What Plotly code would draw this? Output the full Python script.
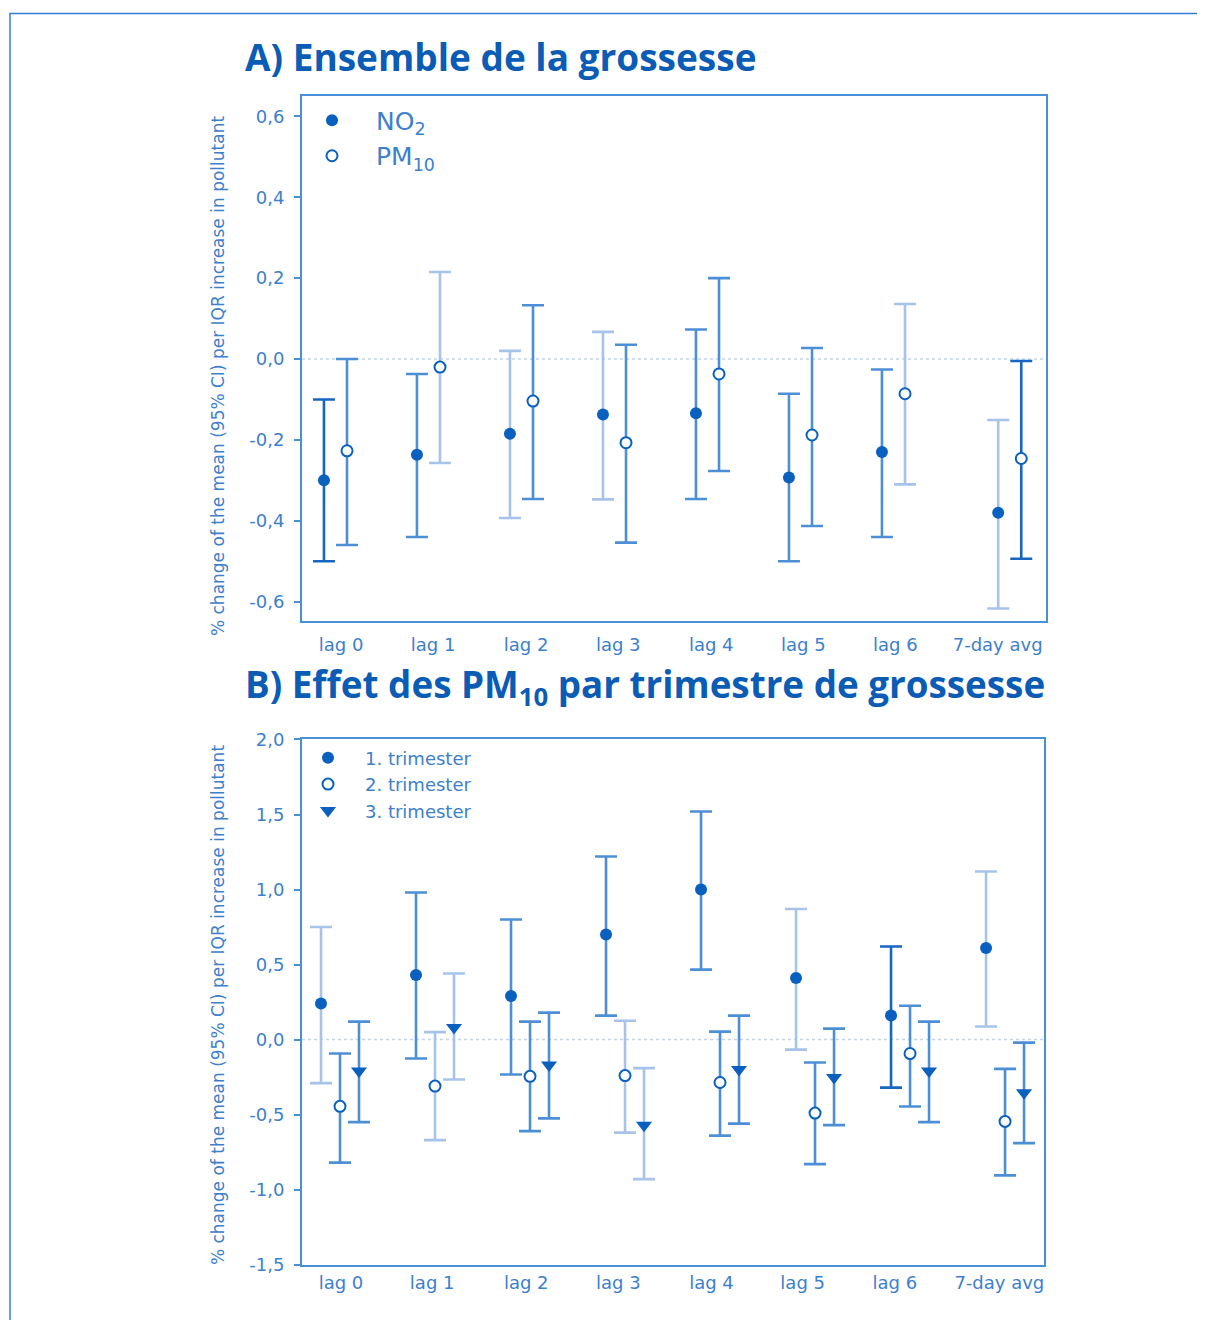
import plotly.graph_objects as go

W, H = 1205, 1320

# ---------------- data ----------------
lags = ["lag 0", "lag 1", "lag 2", "lag 3", "lag 4", "lag 5", "lag 6", "7-day avg"]

# Panel A: whole pregnancy
a_pos = [0, 1, 2, 3, 4, 5, 6, 7.25]
a_tick_pos = [0.06, 1.05, 2.05, 3.04, 4.04, 5.03, 6.02, 7.12]
no2_est = [-0.30, -0.237, -0.185, -0.137, -0.134, -0.293, -0.230, -0.380]
no2_lo = [-0.50, -0.440, -0.393, -0.347, -0.346, -0.500, -0.440, -0.617]
no2_hi = [-0.10, -0.037, 0.020, 0.067, 0.073, -0.086, -0.026, -0.151]
pm10_est = [-0.227, -0.020, -0.104, -0.207, -0.037, -0.188, -0.086, -0.246]
pm10_lo = [-0.460, -0.257, -0.346, -0.454, -0.277, -0.413, -0.310, -0.494]
pm10_hi = [0.0, 0.215, 0.133, 0.035, 0.200, 0.027, 0.136, -0.005]
a_yticks = [0.6, 0.4, 0.2, 0.0, -0.2, -0.4, -0.6]
a_yticktext = ["0,6", "0,4", "0,2", "0,0", "-0,2", "-0,4", "-0,6"]

# Panel B: PM10 by trimester
b_pos = [0, 1, 2, 3, 4, 5, 6, 7]
b_tick_pos = [0.01, 0.97, 1.96, 2.93, 3.91, 4.87, 5.84, 6.94]
t1_est = [0.24, 0.43, 0.29, 0.70, 1.00, 0.41, 0.16, 0.61]
t1_lo = [-0.29, -0.126, -0.233, 0.16, 0.466, -0.067, -0.32, 0.087]
t1_hi = [0.75, 0.98, 0.80, 1.22, 1.52, 0.87, 0.62, 1.12]
t2_est = [-0.445, -0.31, -0.245, -0.24, -0.286, -0.49, -0.093, -0.545]
t2_lo = [-0.82, -0.67, -0.61, -0.62, -0.64, -0.83, -0.446, -0.905]
t2_hi = [-0.093, 0.05, 0.12, 0.126, 0.053, -0.153, 0.226, -0.195]
t3_est = [-0.21, 0.08, -0.17, -0.57, -0.20, -0.253, -0.21, -0.355]
t3_lo = [-0.55, -0.266, -0.525, -0.93, -0.56, -0.57, -0.55, -0.69]
t3_hi = [0.12, 0.44, 0.18, -0.19, 0.16, 0.073, 0.12, -0.02]
b_yticks = [2.0, 1.5, 1.0, 0.5, 0.0, -0.5, -1.0, -1.5]
b_yticktext = ["2,0", "1,5", "1,0", "0,5", "0,0", "-0,5", "-1,0", "-1,5"]

# ---------------- styles ----------------
TITLE_C = "#0b5cb5"
MARK_C = "#0a60bf"
AXIS_C = "#4a90d9"
TICK_C = "#3d80cc"
ERR = {"d": "#1766c2", "m": "#4d8fd6", "l": "#a7c3ea"}
FONT = "DejaVu Sans"

no2_shade = ["d", "m", "l", "l", "m", "m", "m", "l"]
pm10_shade = ["m", "l", "m", "m", "m", "m", "l", "d"]
t1_shade = ["l", "m", "m", "m", "m", "l", "d", "l"]
t2_shade = ["m", "l", "m", "l", "m", "m", "m", "m"]
t3_shade = ["m", "l", "m", "l", "m", "m", "m", "m"]


# screen-pixel placement helpers (compensate page offset seen in the viewer)
def fx(px):
    return (px - 8) / W


def fy(py):
    return 1 - (py - 17.4) * 1.0146 / H


fig = go.Figure()


def add_series(xaxis, yaxis, pos, offset, est, lo, hi, shades, name, symbol, filled, legend, size):
    xs = [p + offset for p in pos]
    for i in range(len(xs)):
        fig.add_trace(go.Scatter(
            x=[xs[i]], y=[est[i]], mode="markers",
            marker=dict(size=1, color="rgba(0,0,0,0)"),
            error_y=dict(type="data", symmetric=False,
                         array=[hi[i] - est[i]], arrayminus=[est[i] - lo[i]],
                         color=ERR[shades[i]], thickness=2.6, width=11),
            xaxis=xaxis, yaxis=yaxis, showlegend=False, hoverinfo="skip"))
    if filled:
        marker = dict(size=size, color=MARK_C, symbol=symbol, line=dict(width=0))
    else:
        marker = dict(size=size, color="white", symbol=symbol, line=dict(width=2, color=MARK_C))
    fig.add_trace(go.Scatter(
        x=xs, y=est, mode="markers", name=name, marker=marker,
        xaxis=xaxis, yaxis=yaxis, legend=legend, showlegend=True))


add_series("x", "y", a_pos, -0.124, no2_est, no2_lo, no2_hi, no2_shade,
           "NO<sub>2</sub>", "circle", True, "legend", 12)
add_series("x", "y", a_pos, 0.124, pm10_est, pm10_lo, pm10_hi, pm10_shade,
           "PM<sub>10</sub>", "circle", False, "legend", 11)

add_series("x2", "y2", b_pos, -0.2, t1_est, t1_lo, t1_hi, t1_shade,
           "1. trimester", "circle", True, "legend2", 12)
add_series("x2", "y2", b_pos, 0.0, t2_est, t2_lo, t2_hi, t2_shade,
           "2. trimester", "circle", False, "legend2", 11)
add_series("x2", "y2", b_pos, 0.2, t3_est, t3_lo, t3_hi, t3_shade,
           "3. trimester", "triangle-down", True, "legend2", 14)

axis_common = dict(showline=True, linecolor=AXIS_C, linewidth=2, mirror=True,
                   showgrid=False, zeroline=False)
tickfont = dict(family=FONT, size=18, color=TICK_C)

fig.update_layout(
    width=W, height=H,
    margin=dict(l=0, r=0, t=0, b=0),
    paper_bgcolor="white", plot_bgcolor="white",
    showlegend=True,
    xaxis=dict(domain=[fx(302), fx(1046)], range=[-0.36, 7.64], anchor="y",
               tickvals=a_tick_pos, ticktext=lags, ticks="", tickfont=tickfont,
               ticklabelstandoff=7, **axis_common),
    yaxis=dict(domain=[fy(620), fy(95)], range=[-0.647, 0.649], anchor="x",
               tickvals=a_yticks, ticktext=a_yticktext, ticks="outside", ticklen=6,
               tickcolor=AXIS_C, tickwidth=2, tickfont=tickfont,
               ticklabelstandoff=6, **axis_common),
    xaxis2=dict(domain=[fx(302), fx(1044)], range=[-0.4, 7.41], anchor="y2",
                tickvals=b_tick_pos, ticktext=lags, ticks="", tickfont=tickfont,
                ticklabelstandoff=1, **axis_common),
    yaxis2=dict(domain=[fy(1265), fy(739)], range=[-1.5, 2.0], anchor="x2",
                tickvals=b_yticks, ticktext=b_yticktext, ticks="outside", ticklen=6,
                tickcolor=AXIS_C, tickwidth=2, tickfont=tickfont,
                ticklabelstandoff=6, **axis_common),
    legend=dict(x=fx(288), y=fy(96), xanchor="left", yanchor="top",
                bgcolor="rgba(0,0,0,0)", itemwidth=78,
                font=dict(family=FONT, size=25, color=TICK_C),
                tracegroupgap=0),
    legend2=dict(x=fx(291), y=fy(739), xanchor="left", yanchor="top",
                 bgcolor="rgba(0,0,0,0)", itemwidth=64,
                 font=dict(family=FONT, size=18, color=TICK_C),
                 tracegroupgap=0),
)

# dotted zero reference lines
for xr, yr in (("x", "y"), ("x2", "y2")):
    fig.add_shape(type="line", xref=f"{xr} domain", yref=yr, x0=0, x1=1, y0=0, y1=0,
                  line=dict(color="#c3d4ec", width=1.5, dash="dot"), layer="below")

# outer frame
fig.add_shape(type="rect", xref="paper", yref="paper", x0=fx(10), x1=1.05,
              y0=-0.05, y1=fy(12), line=dict(color="#2f7fd8", width=1.5))

# panel titles
fig.add_annotation(text="A) Ensemble de la grossesse", xref="paper", yref="paper",
                   x=fx(243), y=fy(55), xanchor="left", yanchor="middle", showarrow=False,
                   font=dict(family="Open Sans", size=37, color=TITLE_C, weight="bold"))
fig.add_annotation(text="B) Effet des PM<sub>10</sub> par trimestre de grossesse",
                   xref="paper", yref="paper",
                   x=fx(243), y=fy(686), xanchor="left", yanchor="middle", showarrow=False,
                   font=dict(family="Open Sans", size=36.8, color=TITLE_C, weight="bold"))

# y-axis titles
ytitle = "% change of the mean (95% CI) per IQR increase in pollutant"
for yc in (375, 1005):
    fig.add_annotation(text=ytitle, xref="paper", yref="paper", x=fx(218), y=fy(yc),
                       xanchor="center", yanchor="middle", textangle=-90, showarrow=False,
                       font=dict(family=FONT, size=17, color=TICK_C))

fig.write_html("out.html")
